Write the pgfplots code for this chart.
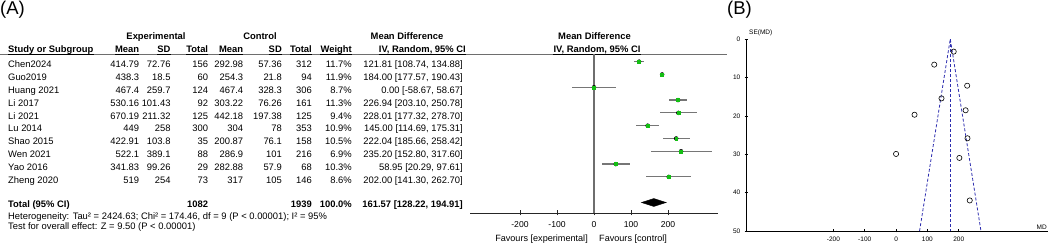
\documentclass[border=0pt]{standalone}
\usepackage{fontspec}
\setmainfont{Liberation Sans}
\usepackage{pgfplots}
\pgfplotsset{compat=1.18}
\usepackage{pgfplotstable}
\definecolor{mkgreen}{RGB}{20,190,20}
\definecolor{cigray}{RGB}{118,118,118}
\definecolor{rulegray}{RGB}{110,110,110}
\definecolor{funblue}{RGB}{45,45,175}

\pgfplotstableread{
k  md     lo     hi
1  121.81 108.74 134.88
2  184.00 177.57 190.43
3  0.00   -58.67 58.67
4  226.94 203.10 250.78
5  228.01 177.32 278.70
6  145.00 114.69 175.31
7  222.04 185.66 258.42
8  235.20 152.80 317.60
9  58.95  20.29  97.61
10 202.00 141.30 262.70
}\forest

\pgfplotstableread{
md     se
121.81 6.67
184.00 3.28
0.00   29.93
226.94 12.16
228.01 25.86
145.00 15.47
222.04 18.56
235.20 42.04
58.95  19.72
202.00 30.97
}\funnel

\pgfplotsset{forestgeom/.style={at={(470pt,33pt)}, anchor=south west, scale only axis,
  width=248pt, height=159pt, xmin=-335, xmax=335, ymin=-12.82, ymax=-0.4, clip=false}}

\begin{document}
\begin{tikzpicture}
\path[use as bounding box] (0,0) rectangle (1049pt,246pt);

% ---------- table text ----------
\begin{scope}[x=1pt,y=-1pt,shift={(0,246pt)},font=\fontsize{9.4}{11}\selectfont,
  R/.style={anchor=base east,inner sep=0pt},
  L/.style={anchor=base west,inner sep=0pt},
  C/.style={anchor=base,inner sep=0pt}]
\node[anchor=west,inner sep=0pt,font=\fontsize{18.5}{20}\selectfont] at (0,10) {(A)};
\node[anchor=west,inner sep=0pt,font=\fontsize{18.5}{20}\selectfont] at (727,9.5) {(B)};

% header rule
\draw[rulegray,line width=1.1pt] (0,54.3) -- (727,54.3);

\begin{scope}[font=\fontsize{9.4}{11}\selectfont\bfseries]
\node[C] at (156,40) {Experimental};
\node[C] at (260,40) {Control};
\node[C] at (407,40) {Mean Difference};
\node[C] at (594.5,40) {Mean Difference};
\node[L] (h0) at (8,52.5) {Study or Subgroup};
\node[R] (h1) at (139.3,52.5) {Mean};
\node[R] (h2) at (170.7,52.5) {SD};
\node[R] (h3) at (208.3,52.5) {Total};
\node[R] (h4) at (243.3,52.5) {Mean};
\node[R] (h5) at (282,52.5) {SD};
\node[R] (h6) at (312,52.5) {Total};
\node[R] (h7) at (352,52.5) {Weight};
\node[R] (h8) at (466,52.5) {IV, Random, 95\% CI};
\node[C] (h9) at (597,52.5) {IV, Random, 95\% CI};
\foreach \h in {h0,h1,h2,h3,h4,h5,h6,h7,h8,h9}
  \draw[black,line width=0.7pt] (\h.west |- 0,54.1) -- (\h.east |- 0,54.1);
\end{scope}

\foreach \n/\a/\b/\c/\d/\e/\f/\w/\ci [count=\k] in {
  Chen2024/414.79/72.76/156/292.98/57.36/312/11.7/{121.81 [108.74, 134.88]},
  Guo2019/438.3/18.5/60/254.3/21.8/94/11.9/{184.00 [177.57, 190.43]},
  Huang 2021/467.4/259.7/124/467.4/328.3/306/8.7/{0.00 [-58.67, 58.67]},
  Li 2017/530.16/101.43/92/303.22/76.26/161/11.3/{226.94 [203.10, 250.78]},
  Li 2021/670.19/211.32/125/442.18/197.38/125/9.4/{228.01 [177.32, 278.70]},
  Lu 2014/449/258/300/304/78/353/10.9/{145.00 [114.69, 175.31]},
  Shao 2015/422.91/103.8/35/200.87/76.1/158/10.5/{222.04 [185.66, 258.42]},
  Wen 2021/522.1/389.1/88/286.9/101/216/6.9/{235.20 [152.80, 317.60]},
  Yao 2016/341.83/99.26/29/282.88/57.9/68/10.3/{58.95 [20.29, 97.61]},
  Zheng 2020/519/254/73/317/105/146/8.6/{202.00 [141.30, 262.70]}}{
  \pgfmathsetmacro\yy{67.7+12.86*(\k-1)}
  \node[L] at (8,\yy) {\n};
  \node[R] at (139.3,\yy) {\a};
  \node[R] at (170.7,\yy) {\b};
  \node[R] at (208.3,\yy) {\c};
  \node[R] at (243.3,\yy) {\d};
  \node[R] at (282,\yy) {\e};
  \node[R] at (312,\yy) {\f};
  \node[R] at (352,\yy) {\w\%};
  \node[R] at (463,\yy) {\ci};
}

\begin{scope}[font=\fontsize{9.4}{11}\selectfont\bfseries]
\node[L] at (8,207.7) {Total (95\% CI)};
\node[R] at (208.3,207.7) {1082};
\node[R] at (312,207.7) {1939};
\node[R] at (352,207.7) {100.0\%};
\node[R] at (463,207.7) {161.57 [128.22, 194.91]};
\end{scope}
\node[L] at (8,219.3) {Heterogeneity: Tau² = 2424.63; Chi² = 174.46, df = 9 (P < 0.00001); I² = 95\%};
\node[L] at (8,229.3) {Test for overall effect: Z = 9.50 (P < 0.00001)};

\node[anchor=base east,inner sep=0pt,font=\fontsize{9.1}{11}\selectfont] at (588,241.3) {Favours [experimental]};
\node[anchor=base west,inner sep=0pt,font=\fontsize{9.1}{11}\selectfont] at (599,241.3) {Favours [control]};

% funnel labels
\node[anchor=west,inner sep=0pt,font=\fontsize{6.5}{8}\selectfont] at (749,33) {SE(MD)};
\node[anchor=east,inner sep=0pt,font=\fontsize{6.5}{8}\selectfont] at (1047,227) {MD};
\end{scope}

% ---------- forest plot: axis + CI lines ----------
\begin{axis}[forestgeom,
  axis x line*=bottom, axis y line=none,
  x axis line style={-, black!85, line width=0.8pt},
  xtick={-200,-100,0,100,200}, xticklabels={-200,-100,0,100,200},
  tick align=center, major tick length=5pt,
  xtick style={black!85, line width=0.8pt},
  xticklabel style={font=\fontsize{8.6}{10}\selectfont, inner sep=0pt, anchor=north},
  xticklabel shift=6pt]
\draw[rulegray,line width=1.1pt] (axis cs:0,-0.4) -- (axis cs:0,-12.82);
\addplot[only marks, mark=none,
  error bars/.cd, x dir=both, x explicit, error mark=none,
  error bar style={cigray, line width=1.2pt}]
  table[x=md, y expr=-\thisrow{k},
        x error plus expr=\thisrow{hi}-\thisrow{md},
        x error minus expr=\thisrow{md}-\thisrow{lo}] {\forest};
\end{axis}

% ---------- forest plot: markers and diamond on top ----------
\begin{axis}[forestgeom, hide axis]
\addplot[only marks, mark=square*, mark size=1.45pt, mkgreen]
  table[x=md, y expr=-\thisrow{k}] {\forest};
\addplot[fill=black, draw=black] coordinates {(128.22,-12) (161.57,-11.69) (194.91,-12) (161.57,-12.31)} -- cycle;
\end{axis}

% ---------- funnel plot ----------
\begin{axis}[at={(746pt,15pt)}, anchor=south west, scale only axis,
  width=302pt, height=192pt,
  xmin=-479, xmax=485, ymin=-50, ymax=0,
  axis x line*=bottom, axis y line*=left,
  axis line style={-, black, line width=0.6pt},
  xtick={-200,-100,0,100,200}, xticklabels={-200,-100,0,100,200},
  ytick={-50,-40,-30,-20,-10,0}, yticklabels={50,40,30,20,10,0},
  tick align=center, major tick length=3pt,
  tick style={black, line width=0.6pt},
  xticklabel style={font=\fontsize{6.5}{8}\selectfont, inner sep=0pt, anchor=north},
  yticklabel style={font=\fontsize{6.5}{8}\selectfont, inner sep=0pt, anchor=east},
  xticklabel shift=4pt, yticklabel shift=4pt,
  clip=false]
\addplot[funblue, densely dashed, line width=0.8pt] coordinates {(75,-50) (173,0) (271,-50)};
\addplot[funblue, densely dashed, line width=0.8pt] coordinates {(173,0) (173,-50)};
\addplot[only marks, mark=o, mark size=2.6pt, black, mark options={line width=0.6pt}]
  table[x=md, y expr=-\thisrow{se}] {\funnel};
\end{axis}
\end{tikzpicture}
\end{document}
